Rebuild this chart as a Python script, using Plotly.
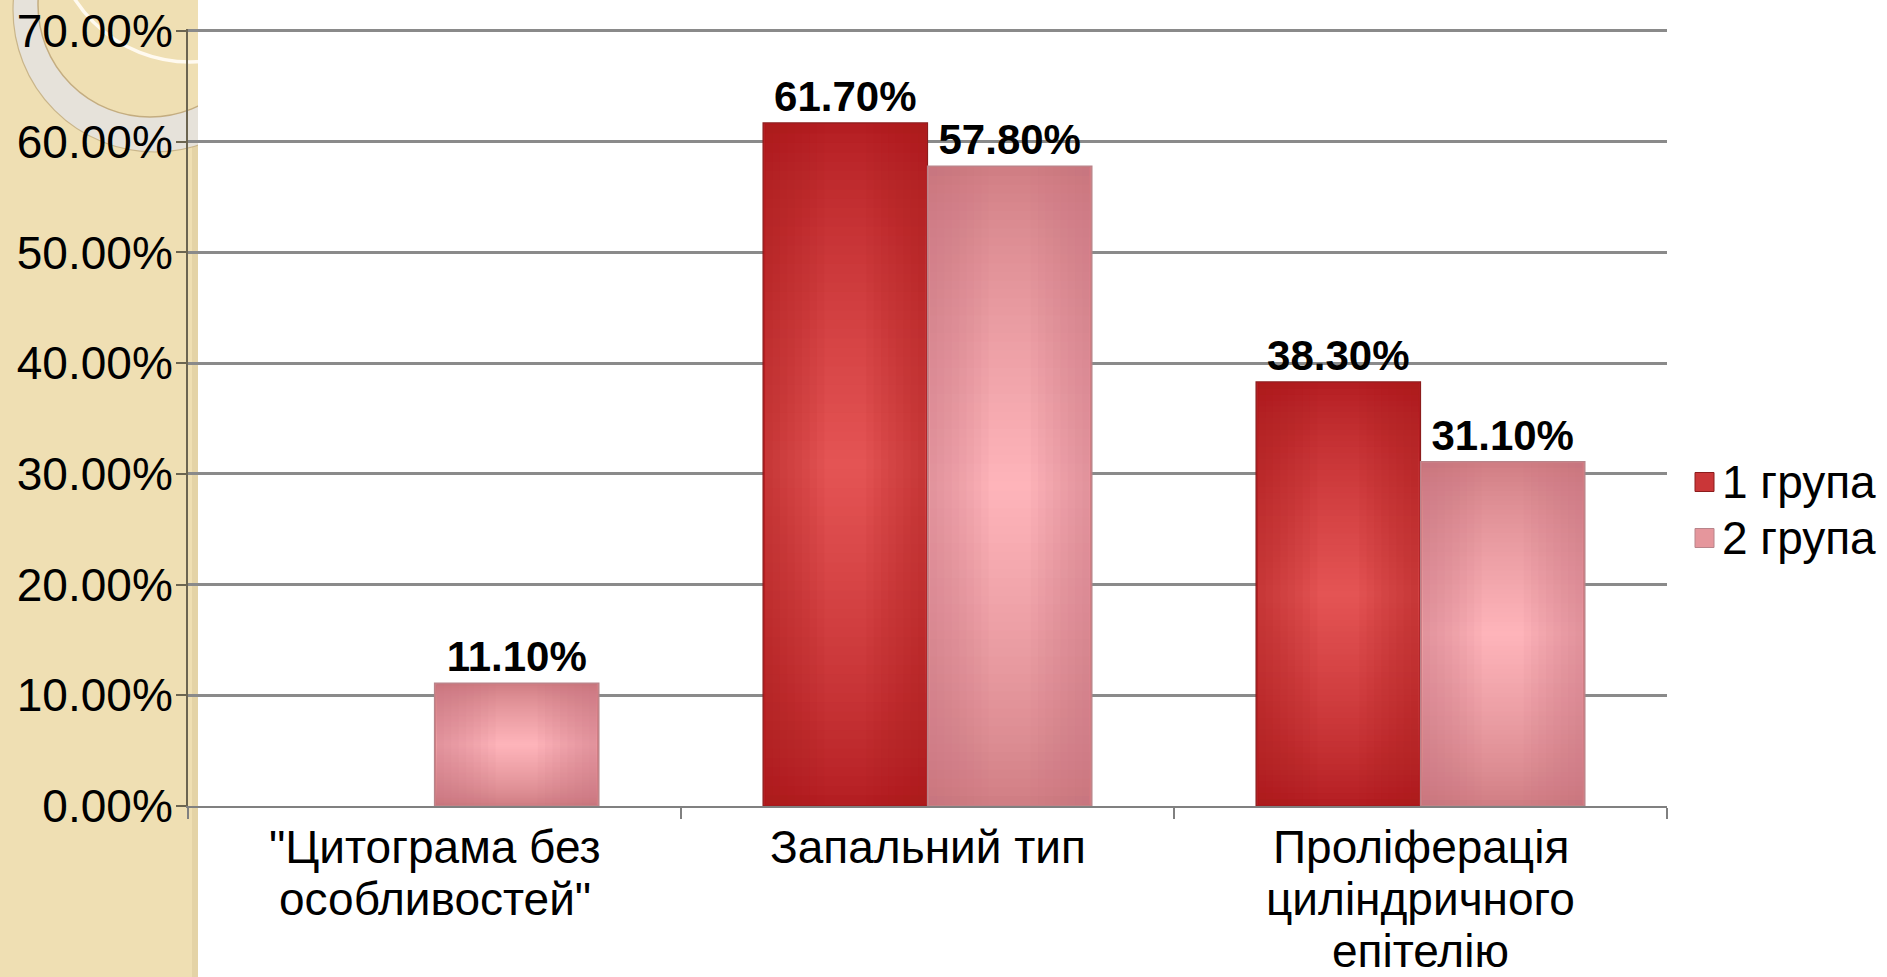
import plotly.graph_objects as go

# Data
categories = ['"Цитограма без особливостей"', "Запальний тип",
              "Проліферація циліндричного епітелію"]
category_lines = [['"Цитограма без', 'особливостей"'],
                  ["Запальний тип"],
                  ["Проліферація", "циліндричного", "епітелію"]]
group_names = ["1 група", "2 група"]
group1_values = [None, 61.7, 38.3]
group2_values = [11.1, 57.8, 31.1]
y_tick_values = [0, 10, 20, 30, 40, 50, 60, 70]
y_tick_labels = ["0.00%", "10.00%", "20.00%", "30.00%", "40.00%",
                 "50.00%", "60.00%", "70.00%"]

# Figure geometry (pixels)
W, H = 1887, 977
ML, MR, MT, MB = 188, 220, 29, 171
PW, PH = W - ML - MR, H - MT - MB
Y_RANGE_TOP = 70.18      # a little headroom so the 70% gridline is drawn
BARGAP = 0.333

FONT = "Liberation Sans, Arial, sans-serif"


def px_x(px):
    return (px - ML) / PW


def px_y(py):
    return (H - MB - py) / PH


def lerp_hex(c1, c2, t):
    a = [int(c1[i:i + 2], 16) for i in (1, 3, 5)]
    b = [int(c2[i:i + 2], 16) for i in (1, 3, 5)]
    return "#%02x%02x%02x" % tuple(round(a[i] + (b[i] - a[i]) * t) for i in range(3))


styles = [
    dict(edge="#b41e22", center="#e45454", side="#a8181c", line="#8c1c1c"),
    dict(edge="#d07e84", center="#feb4ba", side="#c8767c", line="#b8848a"),
]
series = [group1_values, group2_values]

fig = go.Figure()

for idx, vals in enumerate(series):
    st = styles[idx]
    fig.add_trace(go.Bar(
        x=categories, y=vals, name=group_names[idx], showlegend=False,
        marker=dict(color=st["edge"], line=dict(color=st["line"], width=1.2)),
        text=[None if v is None else f"{v:.2f}%" for v in vals],
        textposition="outside", constraintext="none", cliponaxis=False,
        textfont=dict(family=FONT, size=42, color="black", weight="bold"),
    ))

# centre-lit shading inside every bar, derived from the bar values:
# nested horizontal bands (light in the middle) plus darker side bands
shapes = []
half = (1 - BARGAP) / 2
V_STEPS = 36
SIDE_STEPS = 8
for idx, vals in enumerate(series):
    st = styles[idx]
    for ci, v in enumerate(vals):
        if not v:
            continue
        bx0 = ci - half if idx == 0 else ci
        bx1 = bx0 + half
        inset_x = 0.004
        inset_y = 0.12
        mid = v / 2
        for k in range(1, V_STEPS + 1):
            s = k / V_STEPS
            hh = (v / 2 - inset_y) * (1 - s * 0.985)
            shapes.append(dict(
                type="rect", xref="x", yref="y", layer="above",
                x0=bx0 + inset_x, x1=bx1 - inset_x, y0=mid - hh, y1=mid + hh,
                fillcolor=lerp_hex(st["edge"], st["center"], s ** 0.8),
                line=dict(width=0),
            ))
        for k in range(1, SIDE_STEPS + 1):
            w = (bx1 - bx0) * 0.36 * k / SIDE_STEPS
            for xa, xb in ((bx0 + inset_x, bx0 + inset_x + w),
                           (bx1 - inset_x - w, bx1 - inset_x)):
                shapes.append(dict(
                    type="rect", xref="x", yref="y", layer="above",
                    x0=xa, x1=xb, y0=inset_y, y1=v - inset_y,
                    fillcolor=st["side"], opacity=0.07, line=dict(width=0),
                ))

# beige side strip with its ring ornament
deco = [
    dict(type="rect", x0=px_x(-20), x1=px_x(198), y0=px_y(H + 60), y1=px_y(-60),
         fillcolor="#efdfb3", line=dict(width=0)),
    dict(type="rect", x0=px_x(192), x1=px_x(198), y0=px_y(H + 60), y1=px_y(-60),
         fillcolor="#dccb9c", opacity=0.6, line=dict(width=0)),
    dict(type="circle", x0=px_x(13), x1=px_x(297), y0=px_y(152), y1=px_y(-132),
         fillcolor="#e6e2da", line=dict(color="#c9b58a", width=1.2)),
    dict(type="circle", x0=px_x(38), x1=px_x(262), y0=px_y(117), y1=px_y(-107),
         fillcolor="#efdfb3", line=dict(color="#c4ad80", width=1.5)),
    dict(type="circle", x0=px_x(53), x1=px_x(327), y0=px_y(62), y1=px_y(-212),
         line=dict(color="#fffaf0", width=3.5)),
    dict(type="rect", x0=px_x(198), x1=px_x(W + 60), y0=px_y(H + 60), y1=px_y(-60),
         fillcolor="white", line=dict(width=0)),
]
for d in deco:
    d.update(xref="paper", yref="paper", layer="below")

# legend swatches
legend_rows = [482, 538]
for idx, yc in enumerate(legend_rows):
    st = styles[idx]
    deco.append(dict(
        type="rect", xref="paper", yref="paper", layer="above",
        x0=px_x(1695), x1=px_x(1714), y0=px_y(yc + 9.5), y1=px_y(yc - 9.5),
        fillcolor=lerp_hex(st["edge"], st["center"], 0.45),
        line=dict(color=st["line"], width=1),
    ))

annotations = []
for idx, yc in enumerate(legend_rows):
    annotations.append(dict(
        text=group_names[idx], xref="paper", yref="paper",
        x=px_x(1720), y=px_y(yc), xanchor="left", yanchor="middle",
        showarrow=False, font=dict(family=FONT, size=46, color="black"),
    ))

# category labels, one line per annotation
LINE_PITCH = 52
FIRST_LINE_MID = 847
for cat, lines in zip(categories, category_lines):
    for li, line in enumerate(lines):
        annotations.append(dict(
            text=line, xref="x", yref="paper", x=cat,
            y=px_y(FIRST_LINE_MID + li * LINE_PITCH),
            xanchor="center", yanchor="middle", showarrow=False,
            font=dict(family=FONT, size=46, color="black"),
        ))

fig.update_layout(
    width=W, height=H,
    margin=dict(l=ML, r=MR, t=MT, b=MB, pad=0, autoexpand=False),
    paper_bgcolor="white", plot_bgcolor="white",
    barmode="group", bargap=BARGAP, bargroupgap=0,
    font=dict(family=FONT, color="black"),
    shapes=deco + shapes,
    annotations=annotations,
    showlegend=False,
    xaxis=dict(
        showline=True, linecolor="#808080", linewidth=2,
        ticks="outside", ticklen=11, tickwidth=2, tickcolor="#808080",
        tickson="boundaries", showgrid=False, showticklabels=False,
        automargin=False,
    ),
    yaxis=dict(
        range=[0, Y_RANGE_TOP], tickmode="array",
        tickvals=y_tick_values, ticktext=y_tick_labels,
        showline=True, linecolor="#6b6450", linewidth=2,
        ticks="outside", ticklen=10, tickwidth=2, tickcolor="#6b6450",
        showgrid=True, gridcolor="#8a8a8a", gridwidth=3, zeroline=False,
        tickfont=dict(family=FONT, size=46, color="black"),
        ticklabelstandoff=-6, automargin=False,
    ),
)

fig.write_html("out.html")
